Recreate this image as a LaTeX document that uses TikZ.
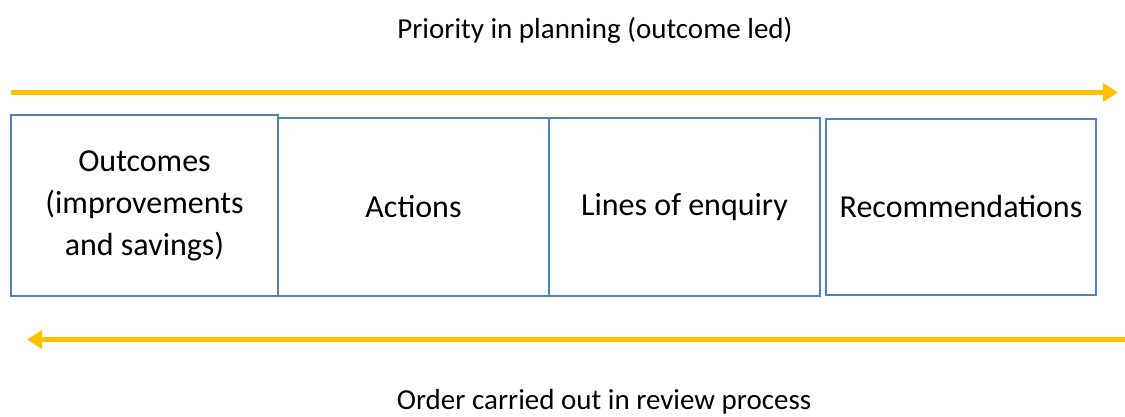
\documentclass[tikz,border=0pt]{standalone}
\usepackage{fontspec}
\setmainfont{Carlito}
\usepackage{xcolor}
\usetikzlibrary{arrows.meta}
\definecolor{gold}{HTML}{FFC000}
\definecolor{boxblue}{HTML}{4F81BD}

\tikzset{
  stage/.style={draw=boxblue, line width=1.2pt, rectangle, inner sep=0pt, align=center, font=\fontsize{32}{42}\selectfont},
  flow/.style={draw=gold, line width=5pt, -{Triangle[length=15pt,width=18pt]}},
  caption/.style={font=\fontsize{29}{35}\selectfont}
}

\begin{document}
\begin{tikzpicture}[x=1pt,y=-1pt]
\useasboundingbox (0,0) rectangle (1125,416);
% captions
\node[caption] (plantext) at (595,30) {Priority in planning (outcome led)};
\node[caption] (reviewtext) at (604,402) {Order carried out in review process};
% arrows
\coordinate (planstart) at (11,92.5);
\coordinate (planend) at (1118,92.5);
\draw[flow] (planstart) -- (planend);
\coordinate (reviewstart) at (1125,339.5);
\coordinate (reviewend) at (27,339.5);
\draw[flow] (reviewstart) -- (reviewend);
% stages
\node[stage, minimum width=267pt, minimum height=181pt] (outcomes) at (144.5,205.5) {Outcomes\\(improvements\\and savings)};
\node[stage, minimum width=271pt, minimum height=178pt] (actions) at (413.5,207) {Actions};
\node[stage, minimum width=271pt, minimum height=178pt] (enquiry) at (684.5,207) {Lines of enquiry};
\node[stage, minimum width=270pt, minimum height=176pt] (recommend) at (961,207) {Recommendations};
\end{tikzpicture}
\end{document}
